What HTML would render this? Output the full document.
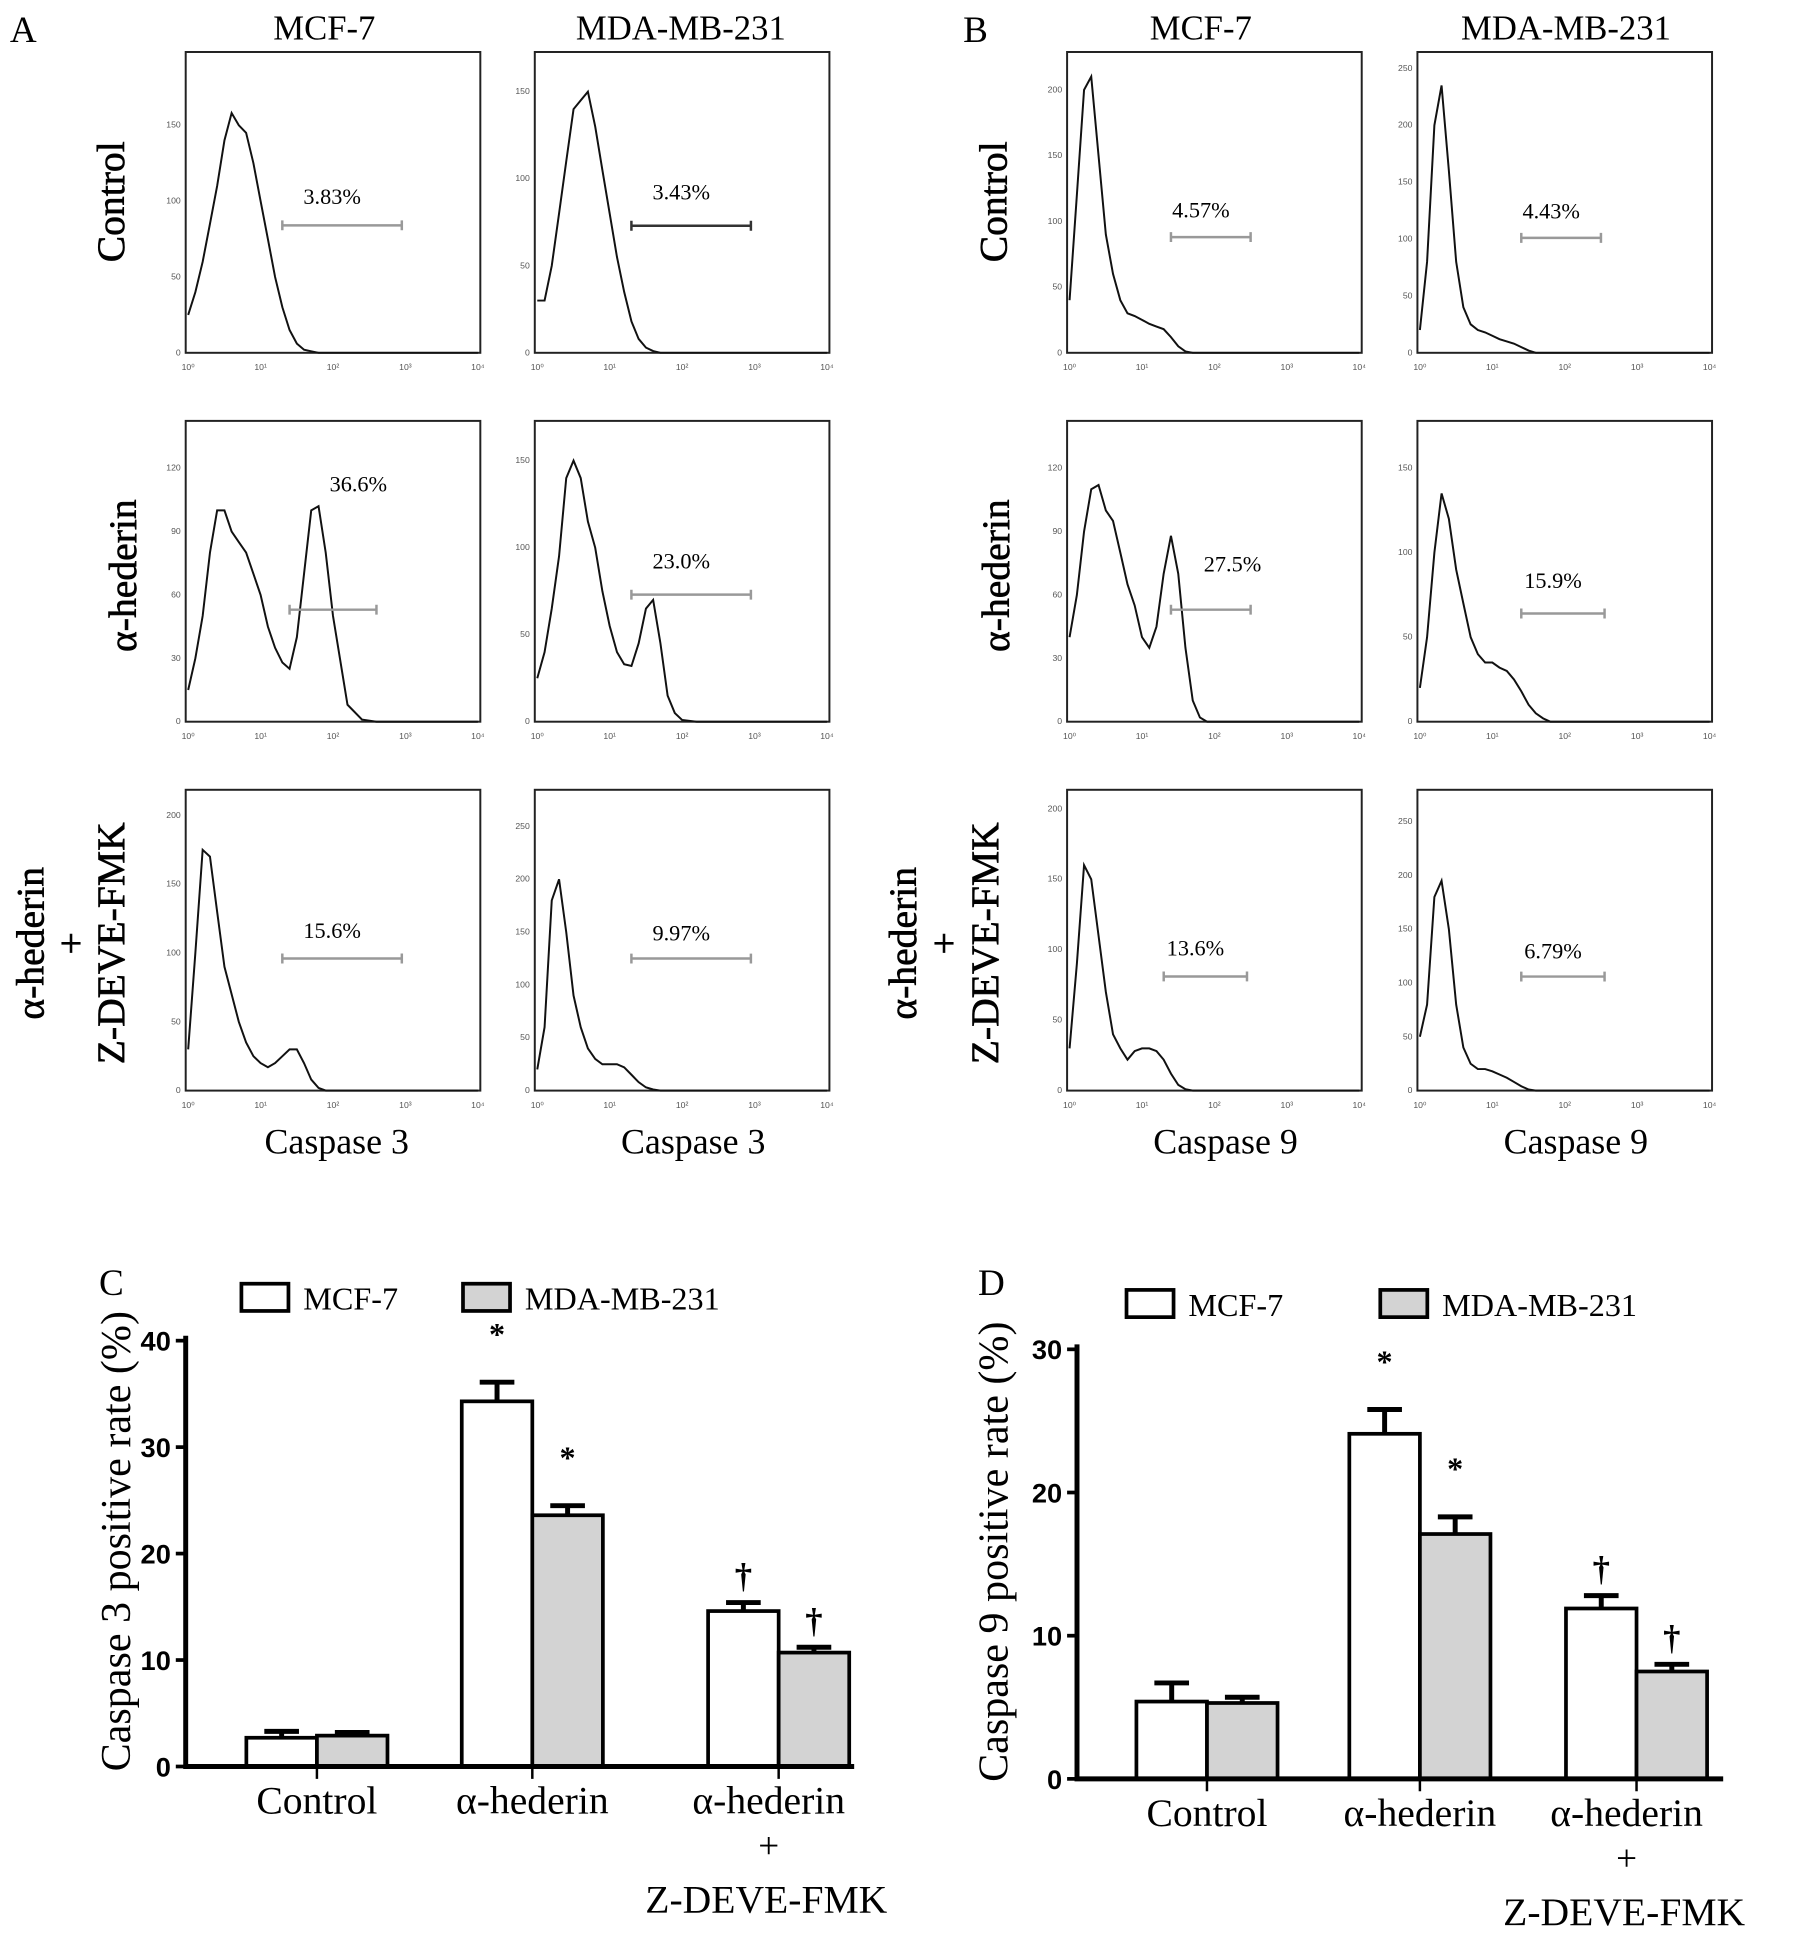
<!DOCTYPE html>
<html><head><meta charset="utf-8"><style>
html,body{margin:0;padding:0;background:#fff;}
svg{display:block;}
text{font-family:"Liberation Serif","DejaVu Serif",serif;}
.tk{font-family:"Liberation Sans",sans-serif;font-size:7px;fill:#555;}
.bt{font-family:"Liberation Sans",sans-serif;font-size:22px;font-weight:bold;}
</style></head><body>
<svg id="fig" width="1795" height="1933" viewBox="0 0 1450 1561.5" xmlns="http://www.w3.org/2000/svg">
<g id="static" fill="#000">
<text x="8" y="34" font-size="30">A</text>
<text x="262" y="32" font-size="28" text-anchor="middle">MCF-7</text>
<text x="550" y="32" font-size="28" text-anchor="middle">MDA-MB-231</text>
<text x="778" y="34" font-size="30">B</text>
<text x="970" y="32" font-size="28" text-anchor="middle">MCF-7</text>
<text x="1265" y="32" font-size="28" text-anchor="middle">MDA-MB-231</text>
<g font-size="32" text-anchor="middle" stroke="#000" stroke-width="0.5">
<text transform="translate(100,163) rotate(-90)">Control</text>
<text transform="translate(110,465) rotate(-90)">α-hederin</text>
<text transform="translate(35,762) rotate(-90)">α-hederin</text>
<text transform="translate(68,762) rotate(-90)">+</text>
<text transform="translate(100,762) rotate(-90)">Z-DEVE-FMK</text>
<text transform="translate(813,163) rotate(-90)">Control</text>
<text transform="translate(815,465) rotate(-90)">α-hederin</text>
<text transform="translate(740,762) rotate(-90)">α-hederin</text>
<text transform="translate(773,762) rotate(-90)">+</text>
<text transform="translate(806,762) rotate(-90)">Z-DEVE-FMK</text>
</g>
<g font-size="29" text-anchor="middle">
<text x="272" y="932">Caspase 3</text>
<text x="560" y="932">Caspase 3</text>
<text x="990" y="932">Caspase 9</text>
<text x="1273" y="932">Caspase 9</text>
</g>
</g>
<g id="hists"></g>
<g id="bars"></g>
</svg>
<script>
const NS='http://www.w3.org/2000/svg';
const logGrid=[0,0.1,0.2,0.3,0.4,0.5,0.6,0.7,0.8,0.9,1.0,1.1,1.2,1.3,1.4,1.5,1.6,1.7,1.8,1.9,2.0,2.2,2.4,2.6,3,4];
const histA1c=[25,40,60,85,110,140,158,150,145,125,100,75,50,30,15,6,2,1,0,0,0,0,0,0,0,0];
const histA2c=[30,30,50,80,110,140,145,150,130,105,80,55,35,18,8,3,1,0,0,0,0,0,0,0,0,0];
const histA1h=[15,30,50,80,100,100,90,85,80,70,60,45,35,28,25,40,70,100,102,80,50,8,1,0,0,0];
const histA2h=[25,40,65,95,140,150,140,115,100,75,55,40,33,32,45,65,70,45,15,5,1,0,0,0,0,0];
const histA1z=[30,100,175,170,130,90,70,50,35,25,20,17,20,25,30,30,20,8,2,0,0,0,0,0,0,0];
const histA2z=[20,60,180,200,150,90,60,40,30,25,25,25,22,15,8,3,1,0,0,0,0,0,0,0,0,0];
const histB1c=[40,120,200,210,150,90,60,40,30,28,25,22,20,18,12,5,1,0,0,0,0,0,0,0,0,0];
const histB2c=[20,80,200,235,160,80,40,25,20,18,15,12,10,8,5,2,0,0,0,0,0,0,0,0,0,0];
const histB1h=[40,60,90,110,112,100,95,80,65,55,40,35,45,70,88,70,35,10,2,0,0,0,0,0,0,0];
const histB2h=[20,50,100,135,120,90,70,50,40,35,35,32,30,25,18,10,5,2,0,0,0,0,0,0,0,0];
const histB1z=[30,90,160,150,110,70,40,30,22,28,30,30,28,22,12,4,1,0,0,0,0,0,0,0,0,0];
const histB2z=[50,80,180,195,150,80,40,25,20,20,18,15,12,8,4,1,0,0,0,0,0,0,0,0,0,0];
const gateLabels=['3.83%','3.43%','36.6%','23.0%','15.6%','9.97%','4.57%','4.43%','27.5%','15.9%','13.6%','6.79%'];
const gateStart=[1.3,1.3,1.4,1.3,1.3,1.3,1.4,1.4,1.4,1.4,1.3,1.4];
const gateEnd=[2.95,2.95,2.6,2.95,2.95,2.95,2.5,2.5,2.5,2.55,2.45,2.55];
const gateCount=[84,73,53,73,96,125,88,101,53,64,81,106];
const labelCount=[98,88,109,88,111,142,103,118,71,79,96,123];
const yMaxes=[195,170,140,170,215,280,225,260,140,175,210,275];
const yStep=[50,50,30,50,50,50,50,50,30,50,50,50];

const panels=[
 {x:150,y:42,d:histA1c,c:'#999'},{x:432,y:42,d:histA2c,c:'#333'},
 {x:150,y:340,d:histA1h,c:'#999'},{x:432,y:340,d:histA2h,c:'#999'},
 {x:150,y:638,d:histA1z,c:'#999'},{x:432,y:638,d:histA2z,c:'#999'},
 {x:862,y:42,d:histB1c,c:'#999'},{x:1145,y:42,d:histB2c,c:'#999'},
 {x:862,y:340,d:histB1h,c:'#999'},{x:1145,y:340,d:histB2h,c:'#999'},
 {x:862,y:638,d:histB1z,c:'#999'},{x:1145,y:638,d:histB2z,c:'#999'}];
const W=238,H=243;
function el(t,a,p){const e=document.createElementNS(NS,t);for(const k in a)e.setAttribute(k,a[k]);p.appendChild(e);return e;}
const hg=document.getElementById('hists');
panels.forEach((p,i)=>{
  const g=el('g',{},hg);
  
  
  const sx=v=>p.x+2+v/4*(W-4);
  const sy=v=>p.y+H-v/yMaxes[i]*(H-4);
  const box=el('rect',{x:p.x,y:p.y,width:W,height:H,fill:'none',stroke:'#222','stroke-width':1.6},g);
  
  
  for(let k=0;k<=4;k++){
    const t=el('text',{x:sx(k),y:p.y+H+14,class:'tk','text-anchor':'middle'},g);t.textContent='10'+['⁰','¹','²','³','⁴'][k];
    
    
  }
  for(let v=0;v<=yMaxes[i];v+=yStep[i]){
    const t=el('text',{x:p.x-4,y:sy(v)+2,class:'tk','text-anchor':'end'},g);t.textContent=v;
    
    
  }
  let dstr='';
  p.d.forEach((v,j)=>{dstr+=(j?'L':'M')+sx(logGrid[j]).toFixed(1)+','+sy(v).toFixed(1);});
  const path=el('path',{d:dstr,fill:'none',stroke:'#111','stroke-width':1.6},g);
  
  
  const gy=sy(gateCount[i]),x1=sx(gateStart[i]),x2=sx(gateEnd[i]);
  const gl=el('path',{d:`M${x1},${gy}H${x2}M${x1},${gy-4}V${gy+4}M${x2},${gy-4}V${gy+4}`,stroke:p.c,'stroke-width':2,fill:'none'},g);
  
  
  const lx=(i===2||i===8)?sx(gateEnd[i]-0.25):(x1+x2)/2-8;
  const lt=el('text',{x:lx,y:sy(labelCount[i]),'font-size':18,'text-anchor':'middle'},g);lt.textContent=gateLabels[i];
  
  
});

// Bar charts
const barCats=['Control','α-hederin','α-hederin'];
const cMcf=[2.7,34.3,14.6], cMcfErr=[0.6,1.8,0.8];
const cMda=[2.9,23.6,10.7], cMdaErr=[0.3,0.9,0.5];
const dMcf=[5.4,24.1,11.9], dMcfErr=[1.3,1.7,0.9];
const dMda=[5.3,17.1,7.5], dMdaErr=[0.4,1.2,0.5];
const cTicks=[0,10,20,30,40], dTicks=[0,10,20,30];
const cMarks=['*','†'], dMarks=['*','†'];
const bg=document.getElementById('bars');
function chart(o){
  const g=el('g',{},bg);
  
  
  const sy=v=>o.y0-v/o.max*(o.y0-o.yTop);
  const pl=el('text',{x:o.lx,y:o.ly,'font-size':30},g);pl.textContent=o.letter;
  
  
  const yt=el('text',{transform:`translate(${o.ytx},${(o.y0+o.yTop)/2-10}) rotate(-90)`,'font-size':34,'text-anchor':'middle'},g);yt.textContent=o.title;
  
  
  [['MCF-7','#fff',o.legX[0]],['MDA-MB-231','#d3d3d3',o.legX[1]]].forEach(l=>{
    const r=el('rect',{x:l[2],y:o.legY,width:38,height:22,fill:l[1],stroke:'#000','stroke-width':3},g);
    
    
    const t=el('text',{x:l[2]+50,y:o.legY+21,'font-size':26},g);t.textContent=l[0];
    
    
  });
  o.ticks.forEach(v=>{
    const t=el('text',{x:o.ax-12,y:sy(v)+8,class:'bt','text-anchor':'end'},g);t.textContent=v;
    
    
    el('line',{x1:o.ax-8,x2:o.ax,y1:sy(v),y2:sy(v),stroke:'#000','stroke-width':3},g);
  });
  const bw=o.bw;
  barCats.forEach((c,i)=>{
    const cx=o.gx[i];
    [[o.m,o.me,'#fff',cx-bw,'mcf7'],[o.d,o.de,'#d3d3d3',cx,'mda']].forEach((s,k)=>{
      const v=s[0][i],e=s[1][i];
      el('path',{d:`M${s[3]+bw/2},${sy(v)}V${sy(v+e)}M${s[3]+bw/2-14},${sy(v+e)}H${s[3]+bw/2+14}`,stroke:'#000','stroke-width':4,fill:'none'},g);
      const r=el('rect',{x:s[3],y:sy(v),width:bw,height:o.y0-sy(v),fill:s[2],stroke:'#000','stroke-width':3},g);
      
      
      if(i>0){
        const mk=el('text',{x:s[3]+bw/2,y:sy(v+e)-(i===1?30:12),'font-size':i===1?26:28,'font-weight':'bold','text-anchor':'middle'},g);
        mk.textContent=i===1?o.marks[0]:o.marks[1];
        
        
      }
    });
    el('line',{x1:cx,x2:cx,y1:o.y0,y2:o.y0+10,stroke:'#000','stroke-width':2},g);
    const t=el('text',{x:cx+(i===2?-8:0),y:o.y0+38,'font-size':32,'text-anchor':'middle'},g);t.textContent=c;
    
    
  });
  const p1=el('text',{x:o.gx[2]-8,y:o.y0+74,'font-size':30,'text-anchor':'middle'},g);p1.textContent='+';
  
  
  const p2=el('text',{x:o.gx[2]-10,y:o.y0+118,'font-size':32,'text-anchor':'middle'},g);p2.textContent='Z-DEVE-FMK';
  
  
  el('path',{d:`M${o.ax},${o.yTop-4}V${o.y0}H${o.axEnd}`,stroke:'#000','stroke-width':4,fill:'none'},g);
}
chart({name:'caspase3-bar-chart',letter:'C',lx:80,ly:1046,title:'Caspase 3 positive rate (%)',ytx:105,legX:[195,374],legY:1037,
  ax:150,axEnd:690,y0:1427,yTop:1083,max:40,ticks:cTicks,bw:57,gx:[256,430,629],m:cMcf,me:cMcfErr,d:cMda,de:cMdaErr,marks:cMarks});
chart({name:'caspase9-bar-chart',letter:'D',lx:790,ly:1046,title:'Caspase 9 positive rate (%)',ytx:814,legX:[910,1115],legY:1042,
  ax:870,axEnd:1392,y0:1437,yTop:1090,max:30,ticks:dTicks,bw:57,gx:[975,1147,1322],m:dMcf,me:dMcfErr,d:dMda,de:dMdaErr,marks:dMarks});
</script>
</body></html>
